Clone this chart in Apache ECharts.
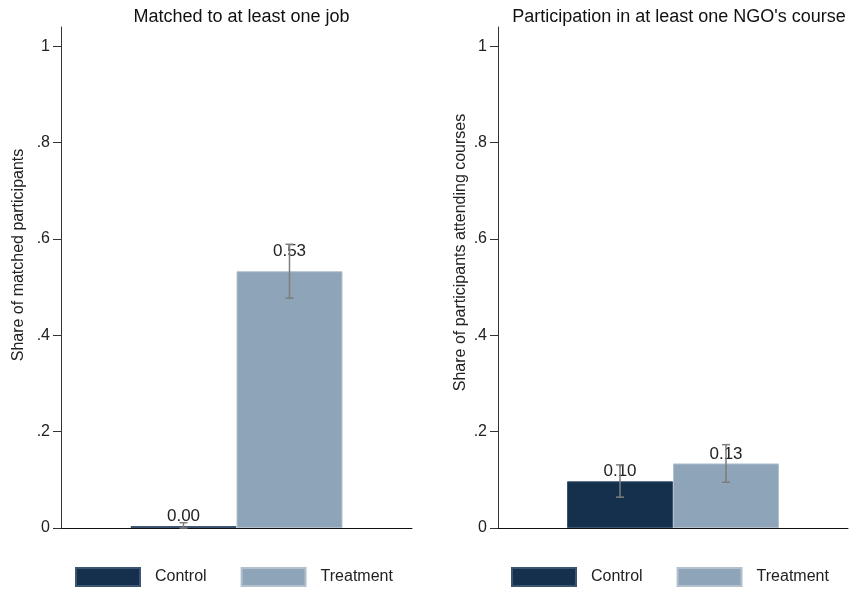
<!DOCTYPE html>
<html>
<head>
<meta charset="utf-8">
<script src="https://cdn.jsdelivr.net/npm/echarts@6/dist/echarts.min.js"></script>
<style>
  html, body { margin: 0; padding: 0; background: #fff; }
  #chart { width: 851px; height: 591px; }
</style>
</head>
<body>
<div id="chart"></div>
<script>
// values
var groups = ['Control', 'Treatment'];
var panelTitles = ['Matched to at least one job', "Participation in at least one NGO's course"];
var yNames = ['Share of matched participants', 'Share of participants attending courses'];

var jobShare = [0.004, 0.533];
var jobLow = [0.0, 0.477];
var jobHigh = [0.011, 0.589];

var courseShare = [0.097, 0.134];
var courseLow = [0.064, 0.095];
var courseHigh = [0.131, 0.173];

var yTicks = [0, 0.2, 0.4, 0.6, 0.8, 1];
var yTickLabels = ['0', '.2', '.4', '.6', '.8', '1'];

var colors = ['#14304d', '#8ea4b9'];
var FONT = 'Liberation Sans, Arial, sans-serif';
var BAR_W = 106;

function errRender(params, api) {
  var idx = api.value(3);
  var hi = api.coord([api.value(0), api.value(2)]);
  var lo = api.coord([api.value(0), api.value(1)]);
  var x = hi[0] + (idx - 0.5) * BAR_W;
  var cap = 4;
  var style = { stroke: '#7d7d7d', lineWidth: 1.5, fill: null };
  return {
    type: 'group',
    children: [
      { type: 'line', shape: { x1: x, y1: hi[1], x2: x, y2: lo[1] }, style: style },
      { type: 'line', shape: { x1: x - cap, y1: hi[1], x2: x + cap, y2: hi[1] }, style: style },
      { type: 'line', shape: { x1: x - cap, y1: lo[1], x2: x + cap, y2: lo[1] }, style: style }
    ]
  };
}

function yAxisFor(i, gap, lift) {
  return {
    type: 'value', gridIndex: i, min: 0, max: 1.04,
    name: yNames[i], nameLocation: 'middle', nameGap: gap,
    nameTextStyle: { fontFamily: FONT, fontSize: 16, color: '#222', padding: [0, 0, 0, lift] },
    splitLine: { show: false },
    axisLine: { show: true, lineStyle: { color: '#333', width: 1 } },
    axisTick: { show: true, length: 8, customValues: yTicks, lineStyle: { color: '#333' } },
    axisLabel: {
      customValues: yTicks, margin: 11, fontFamily: FONT, fontSize: 16, color: '#222',
      formatter: function (v) { return yTickLabels[yTicks.indexOf(v)]; }
    }
  };
}

function xAxisFor(i) {
  return {
    type: 'category', gridIndex: i, data: ['all'],
    axisLine: { show: true, onZero: false, lineStyle: { color: '#111', width: 1 } },
    axisTick: { show: false }, axisLabel: { show: false }, splitLine: { show: false }
  };
}

function barSeries(i, name, value, colorIdx, labelDist) {
  return {
    type: 'bar', name: name, xAxisIndex: i, yAxisIndex: i,
    data: [value], barWidth: BAR_W, barGap: '0%',
    itemStyle: { color: colors[colorIdx], borderColor: colorIdx ? '#b3c1cf' : '#3c5470', borderWidth: 1 },
    label: {
      show: true, position: 'top', distance: labelDist,
      fontFamily: FONT, fontSize: 17, color: '#222',
      formatter: function (p) { return p.value.toFixed(2); }
    },
    z: 2
  };
}

function errSeries(i, low, high) {
  return {
    type: 'custom', xAxisIndex: i, yAxisIndex: i,
    renderItem: errRender,
    encode: { x: 0, y: [1, 2] },
    data: [[0, low[0], high[0], 0], [0, low[1], high[1], 1]],
    z: 5, silent: true
  };
}

var legendBase = {
  data: groups, orient: 'horizontal', top: 567, padding: 0,
  itemWidth: 64, itemHeight: 18, itemGap: 34,
  icon: 'rect',
  textStyle: { fontFamily: FONT, fontSize: 16, color: '#222', padding: [0, 0, 0, 10] }
};

var myChart = echarts.init(document.getElementById('chart'));
var option = {
  animation: false,
  color: colors,
  title: [
    { text: panelTitles[0], left: 236.5, textAlign: 'center', top: 3,
      textStyle: { fontFamily: FONT, fontSize: 18, fontWeight: 'normal', color: '#111' } },
    { text: panelTitles[1], left: 674, textAlign: 'center', top: 3,
      textStyle: { fontFamily: FONT, fontSize: 18, fontWeight: 'normal', color: '#111' } }
  ],
  legend: [
    Object.assign({ left: 75 }, legendBase),
    Object.assign({ left: 511 }, legendBase)
  ],
  grid: [
    { left: 61, right: 439, top: 27, bottom: 63 },
    { left: 498, right: 3, top: 27, bottom: 63 }
  ],
  xAxis: [xAxisFor(0), xAxisFor(1)],
  yAxis: [yAxisFor(0, 34, 45), yAxisFor(1, 29, 50)],
  series: [
    barSeries(0, groups[0], jobShare[0], 0, 1),
    barSeries(0, groups[1], jobShare[1], 1, 11),
    errSeries(0, jobLow, jobHigh),
    barSeries(1, groups[0], courseShare[0], 0, 1),
    barSeries(1, groups[1], courseShare[1], 1, 1),
    errSeries(1, courseLow, courseHigh)
  ]
};
myChart.setOption(option);
</script>
</body>
</html>
